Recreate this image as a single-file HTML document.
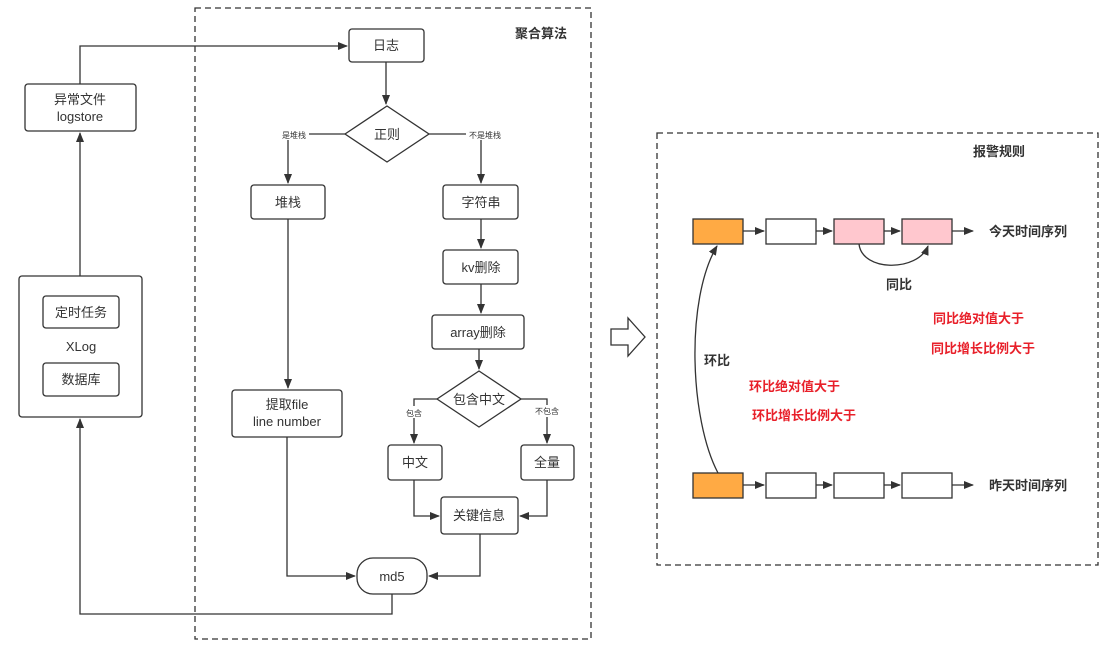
<!DOCTYPE html>
<html><head><meta charset="utf-8"><style>
html,body{margin:0;padding:0;background:#fff;}
svg{display:block;}
text{font-family:"Liberation Sans","Noto Sans CJK SC",sans-serif;fill:#333;}
</style></head><body>
<svg width="1120" height="652" viewBox="0 0 1120 652" xmlns="http://www.w3.org/2000/svg">
<defs>
<marker id="a" markerWidth="10" markerHeight="8" refX="9" refY="4" orient="auto" markerUnits="userSpaceOnUse">
<path d="M0,0 L10,4 L0,8 Z" fill="#333"/></marker>
</defs>
<g fill="none" stroke="#333" stroke-width="1.3">
<rect x="195" y="8" width="396" height="631" stroke-dasharray="6,4"/>
<rect x="657" y="133" width="441" height="432" stroke-dasharray="6,4"/>
</g>
<text x="515" y="38" font-size="13" font-weight="bold">聚合算法</text>
<text x="973" y="156" font-size="13" font-weight="bold">报警规则</text>

<g fill="#fff" stroke="#333" stroke-width="1.3">
<rect x="25" y="84" width="111" height="47" rx="3"/>
<rect x="19" y="276" width="123" height="141" rx="3"/>
<rect x="43" y="296" width="76" height="32" rx="3"/>
<rect x="43" y="363" width="76" height="33" rx="3"/>
<rect x="349" y="29" width="75" height="33" rx="3"/>
<polygon points="345,134 387,106 429,134 387,162"/>
<rect x="251" y="185" width="74" height="34" rx="3"/>
<rect x="443" y="185" width="75" height="34" rx="3"/>
<rect x="443" y="250" width="75" height="34" rx="3"/>
<rect x="432" y="315" width="92" height="34" rx="3"/>
<polygon points="437,399 479,371 521,399 479,427"/>
<rect x="232" y="390" width="110" height="47" rx="3"/>
<rect x="388" y="445" width="54" height="35" rx="3"/>
<rect x="521" y="445" width="53" height="35" rx="3"/>
<rect x="441" y="497" width="77" height="37" rx="3"/>
<rect x="357" y="558" width="70" height="36" rx="16"/>
</g>

<g fill="none" stroke="#333" stroke-width="1.3">
<polyline points="80,84 80,46 347,46" marker-end="url(#a)"/>
<line x1="80" y1="276" x2="80" y2="133" marker-end="url(#a)"/>
<line x1="386" y1="62" x2="386" y2="104" marker-end="url(#a)"/>
<polyline points="345,134 309,134"/>
<line x1="288" y1="140" x2="288" y2="183" marker-end="url(#a)"/>
<polyline points="429,134 466,134"/>
<line x1="481" y1="140" x2="481" y2="183" marker-end="url(#a)"/>
<line x1="481" y1="219" x2="481" y2="248" marker-end="url(#a)"/>
<line x1="481" y1="284" x2="481" y2="313" marker-end="url(#a)"/>
<line x1="479" y1="349" x2="479" y2="369" marker-end="url(#a)"/>
<line x1="288" y1="219" x2="288" y2="388" marker-end="url(#a)"/>
<polyline points="437,399 414,399 414,406"/>
<line x1="414" y1="418" x2="414" y2="443" marker-end="url(#a)"/>
<polyline points="521,399 547,399 547,405"/>
<line x1="547" y1="417" x2="547" y2="443" marker-end="url(#a)"/>
<polyline points="414,480 414,516 439,516" marker-end="url(#a)"/>
<polyline points="547,480 547,516 520,516" marker-end="url(#a)"/>
<polyline points="287,437 287,576 355,576" marker-end="url(#a)"/>
<polyline points="480,534 480,576 429,576" marker-end="url(#a)"/>
<polyline points="392,594 392,614 80,614 80,419" marker-end="url(#a)"/>
</g>

<g font-size="13" text-anchor="middle">
<text x="80" y="104">异常文件</text>
<text x="80" y="121">logstore</text>
<text x="81" y="317">定时任务</text>
<text x="81" y="351">XLog</text>
<text x="81" y="384">数据库</text>
<text x="386" y="50">日志</text>
<text x="387" y="139">正则</text>
<text x="288" y="207">堆栈</text>
<text x="481" y="207">字符串</text>
<text x="481" y="272">kv删除</text>
<text x="478" y="337">array删除</text>
<text x="479" y="404">包含中文</text>
<text x="287" y="409">提取file</text>
<text x="287" y="426">line number</text>
<text x="415" y="467">中文</text>
<text x="547" y="467">全量</text>
<text x="479" y="520">关键信息</text>
<text x="392" y="581">md5</text>
</g>
<g font-size="8" text-anchor="middle" fill="#333">
<text x="294" y="138">是堆栈</text>
<text x="485" y="138">不是堆栈</text>
<text x="414" y="416">包含</text>
<text x="547" y="414">不包含</text>
</g>

<!-- hollow arrow -->
<polygon points="611,329 628,329 628,318 645,337 628,356 628,345 611,345" fill="#fff" stroke="#333" stroke-width="1.3"/>

<g stroke="#333" stroke-width="1.3">
<rect x="693" y="219" width="50" height="25" fill="#FFAA44"/>
<rect x="766" y="219" width="50" height="25" fill="#fff"/>
<rect x="834" y="219" width="50" height="25" fill="#FFC7CE"/>
<rect x="902" y="219" width="50" height="25" fill="#FFC7CE"/>
<rect x="693" y="473" width="50" height="25" fill="#FFAA44"/>
<rect x="766" y="473" width="50" height="25" fill="#fff"/>
<rect x="834" y="473" width="50" height="25" fill="#fff"/>
<rect x="902" y="473" width="50" height="25" fill="#fff"/>
</g>
<g fill="none" stroke="#333" stroke-width="1.3">
<line x1="743" y1="231" x2="764" y2="231" marker-end="url(#a)"/>
<line x1="816" y1="231" x2="832" y2="231" marker-end="url(#a)"/>
<line x1="884" y1="231" x2="900" y2="231" marker-end="url(#a)"/>
<line x1="952" y1="231" x2="973" y2="231" marker-end="url(#a)"/>
<line x1="743" y1="485" x2="764" y2="485" marker-end="url(#a)"/>
<line x1="816" y1="485" x2="832" y2="485" marker-end="url(#a)"/>
<line x1="884" y1="485" x2="900" y2="485" marker-end="url(#a)"/>
<line x1="952" y1="485" x2="973" y2="485" marker-end="url(#a)"/>
<path d="M859,244 C862,272 918,272 928,246" marker-end="url(#a)"/>
<path d="M718,473 C690,420 685,300 717,246" marker-end="url(#a)"/>
</g>
<g font-size="13">
<text x="989" y="236" font-weight="bold">今天时间序列</text>
<text x="989" y="490" font-weight="bold">昨天时间序列</text>
<text x="886" y="289" font-weight="bold">同比</text>
<text x="704" y="365" font-weight="bold">环比</text>
</g>
<g font-size="13" font-weight="bold" style="fill:#E8202A">
<text x="933" y="323" style="fill:#E8202A">同比绝对值大于</text>
<text x="931" y="353" style="fill:#E8202A">同比增长比例大于</text>
<text x="749" y="391" style="fill:#E8202A">环比绝对值大于</text>
<text x="752" y="420" style="fill:#E8202A">环比增长比例大于</text>
</g>
</svg>
</body></html>
